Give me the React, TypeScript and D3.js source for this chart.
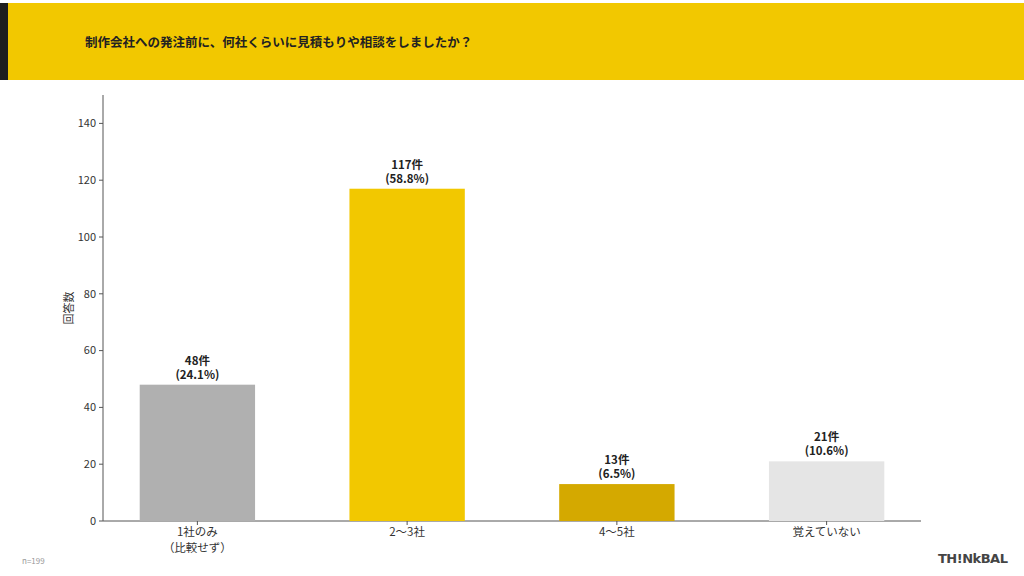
import React from "react";
import * as d3 from "d3";

const title = "制作会社への発注前に、何社くらいに見積もりや相談をしましたか？";
const categories = ["1社のみ\n（比較せず）", "2〜3社", "4〜5社", "覚えていない"];
const counts = [48, 117, 13, 21];
const percents = ["24.1%", "58.8%", "6.5%", "10.6%"];
const barColors = ["#b0b0b0", "#f2c800", "#d4a900", "#e5e5e5"];
const yTicks = [0, 20, 40, 60, 80, 100, 120, 140];

const W = 1024;
const H = 576;
const font = "'Noto Sans CJK JP', 'Noto Sans', sans-serif";

export default function App() {
  const x = d3.scaleLinear().domain([-0.45, 3.45]).range([103, 921]);
  const y = d3.scaleLinear().domain([0, 150]).range([521, 95]);
  const barW = x(0.55) - x(0);

  return (
    <svg
      width={W}
      height={H}
      style={{ position: "fixed", left: 0, top: 0, background: "#fff" }}
      fontFamily={font}
    >
      <rect x={0} y={3} width={W} height={77} fill="#f2c800" />
      <rect x={0} y={3} width={8} height={77} fill="#1e1e1e" />
      <text x={85} y={47} fontSize={12.5} fontWeight="bold" fill="#222">
        {title}
      </text>

      {/* axes */}
      <line x1={103} x2={103} y1={95} y2={521} stroke="#555" />
      <line x1={103} x2={921} y1={521} y2={521} stroke="#555" />
      {yTicks.map((t) => (
        <g key={t}>
          <line x1={99} x2={103} y1={y(t)} y2={y(t)} stroke="#555" />
          <text x={96} y={y(t)} dy="0.35em" textAnchor="end" fontSize={11} fill="#333">
            {t}
          </text>
        </g>
      ))}
      <text
        transform={`translate(73,${y(75)}) rotate(-90)`}
        textAnchor="middle"
        fontSize={11}
        fill="#333"
      >
        回答数
      </text>

      {counts.map((c, i) => (
        <g key={i}>
          <rect x={x(i) - barW / 2} y={y(c)} width={barW} height={y(0) - y(c)} fill={barColors[i]} />
          <line x1={x(i)} x2={x(i)} y1={521} y2={525} stroke="#555" />
          {categories[i].split("\n").map((s, j) => (
            <text
              key={j}
              x={x(i)}
              y={536 + j * 15.5}
              textAnchor="middle"
              fontSize={11.5}
              fill="#333"
            >
              {s}
            </text>
          ))}
          <text x={x(i)} y={y(c) - 20} textAnchor="middle" fontSize={11.5} fontWeight="bold" fill="#222">
            {c}件
          </text>
          <text x={x(i)} y={y(c) - 6} textAnchor="middle" fontSize={11.5} fontWeight="bold" fill="#222">
            ({percents[i]})
          </text>
        </g>
      ))}

      <text x={22} y={564} fontSize={8} fill="#999">
        n=199
      </text>
      <text x={938} y={563} fontSize={13} fontWeight="bold" fill="#444" fontFamily="'DejaVu Sans', sans-serif" letterSpacing={-0.5}>
        TH!NkBAL
      </text>
    </svg>
  );
}
